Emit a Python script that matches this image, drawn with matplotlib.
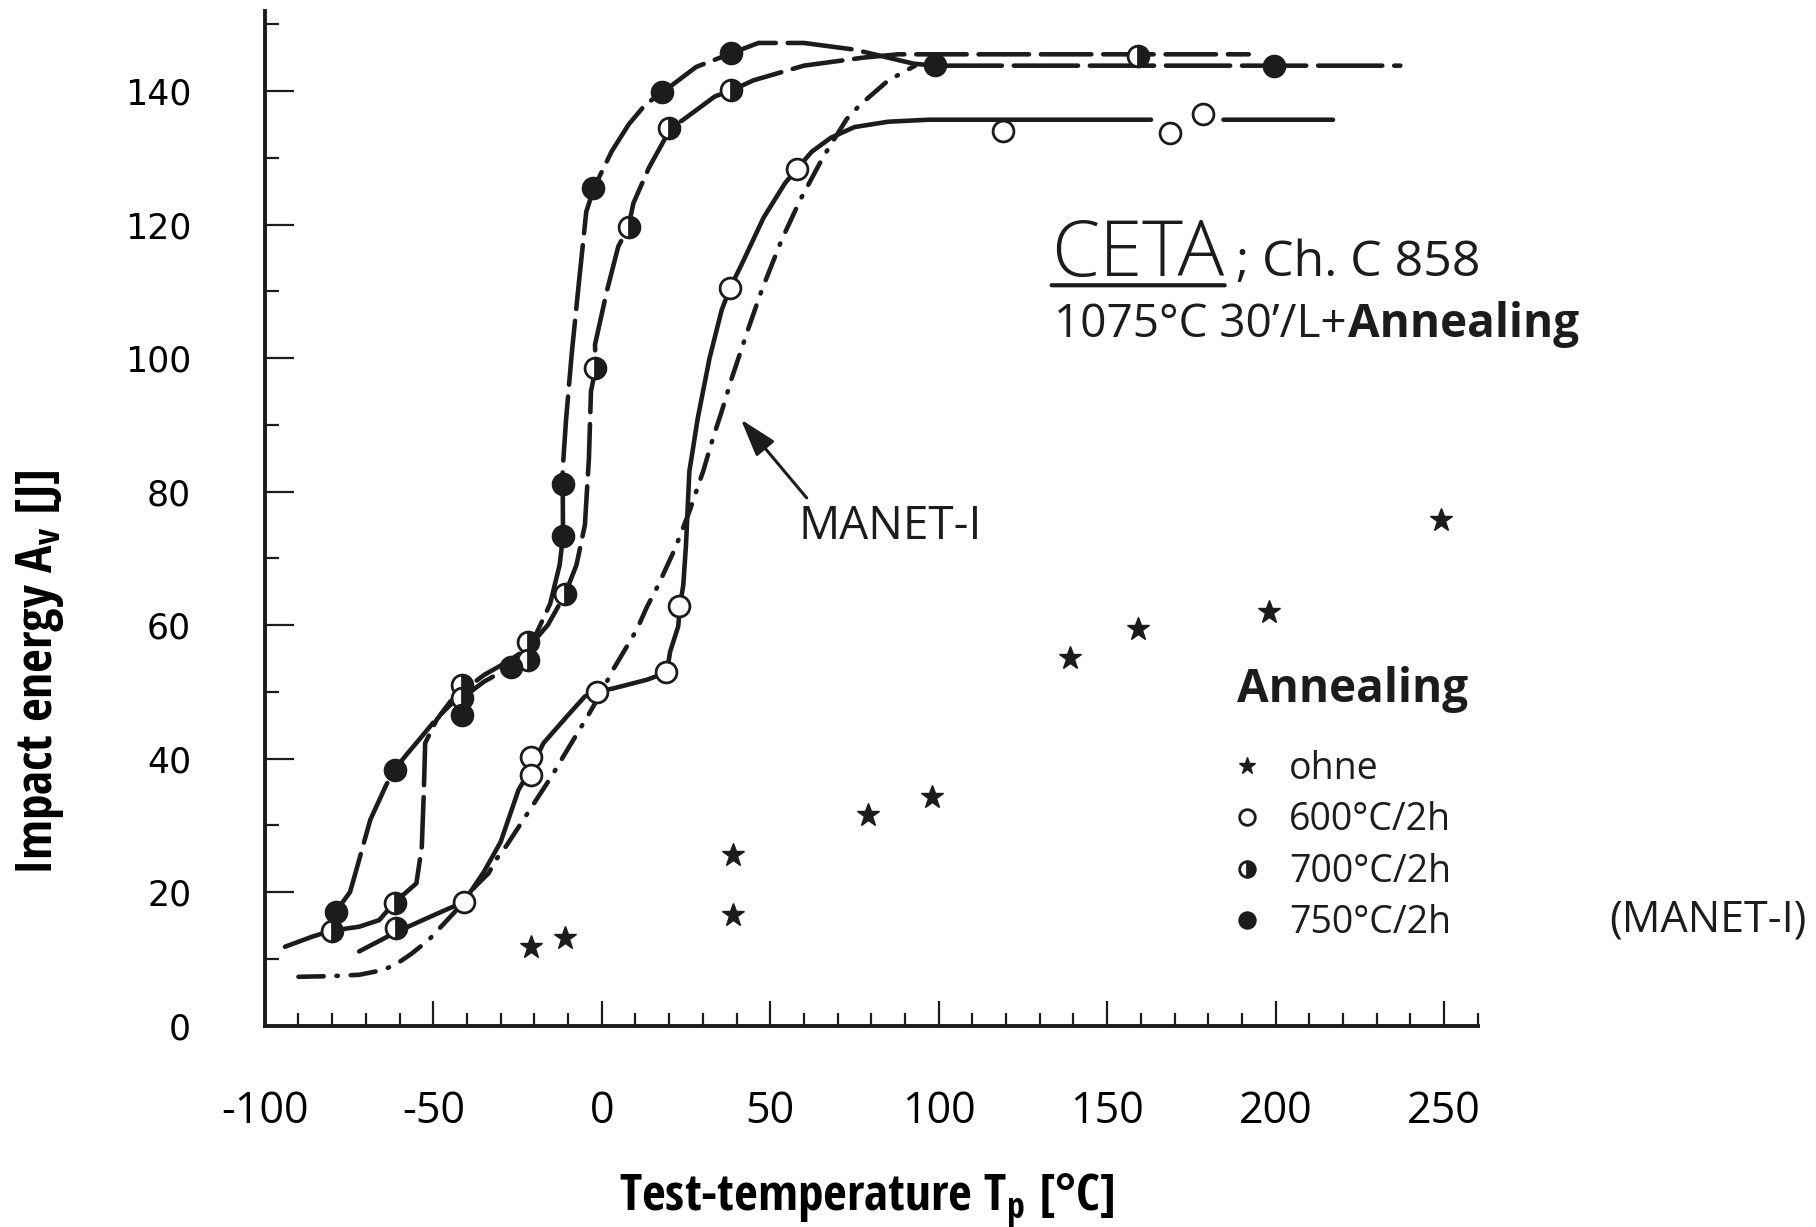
import numpy as np
import matplotlib
matplotlib.use('Agg')
import matplotlib.pyplot as plt
from matplotlib.ticker import MultipleLocator
from matplotlib.font_manager import FontProperties

plt.rcParams['axes.unicode_minus'] = False

# Charpy results, test temperature [degC] vs impact energy [J]
ohne_T = [-21, -11, 39, 39, 79, 98, 139, 159, 198, 249]
ohne_A = [11.8, 13.1, 25.6, 16.6, 31.5, 34.3, 55.1, 59.4, 62.0, 75.7]

t600_T = [-41, -21, -21, -1.5, 19, 23, 38, 58, 119, 168.5, 178.5]
t600_A = [18.5, 40.3, 37.5, 50.0, 52.9, 62.8, 110.5, 128.3, 134.0, 133.7, 136.5]

t700_T = [-80, -61.5, -61, -41.5, -41.5, -22, -22, -11, -2, 8, 20, 38.5, 159]
t700_A = [14.2, 18.4, 14.6, 51.0, 49.0, 57.5, 54.8, 64.6, 98.5, 119.6, 134.4, 140.1, 145.3]

t750_T = [-79, -61.5, -41.5, -27, -11.5, -11.5, -2.5, 18, 38.5, 99, 199.5]
t750_A = [17.0, 38.3, 46.5, 53.7, 73.3, 81.1, 125.5, 139.9, 145.7, 143.9, 143.7]

# hand-drawn trend curves (nan = gap)
c600_T = [-72, -61, -50, -41, -35, -30, -24.7, -21, -17.3, -10, -5, -1.5, 3.4, 13.4, 19.3,
          20.3, 22.7, 23.2, 24.2, 25, 26, 28.5, 32, 35.6, 38.1, 41.5, 48, 54.4, 57.9, 62.3,
          68, 75, 85, 97, 163, np.nan, 184.5, 217]
c600_A = [11.1, 14.0, 16.5, 18.5, 23, 27.5, 35.3, 38.5, 42.3, 46.5, 49.3, 50.0, 50.5, 51.8, 52.9,
          56, 59.8, 62.8, 66, 72, 83, 91, 100, 107.2, 110.5, 114, 121, 126.2, 128.3, 130.9,
          133, 134.6, 135.4, 135.7, 135.7, np.nan, 135.7, 135.7]

c700_T = [-94, -86, -80.3, -72, -66, -61.6, -55, -53.4, -52.8, -52.4, -49, -45, -41.5, -35,
          -28, -22, -16, -10.9, -7.5, -5, -3.8, -3.2, -1.8, -2, 1.5, 4.9, 7.9, 9.4, 14,
          18.8, 20.3, 24.2, 33.6, 38.6, 45, 60, 77.6, 88, 192]
c700_A = [11.8, 13.3, 14.2, 14.8, 15.8, 18.4, 21.3, 26.8, 35, 42.3, 45.8, 48.5, 50.0, 52.5,
          54.5, 56.5, 60, 64.6, 69, 75, 85, 95, 98.5, 102, 110, 116.7, 119.6, 123.2, 128.5,
          132.9, 134.4, 135.7, 139.2, 140.1, 141.6, 143.8, 145.0, 145.5, 145.5]

c750_T = [-79, -74.7, -73, -68.7, -64, -61.5, -58.4, -53.4, -49, -44, -41.5, -35, -27.2, -21,
          -15.3, -12.5, -11.5, -11.6, -10.6, -8.9, -6.9, -4.6, -2.3, 3, 8, 13, 18.3, 28, 38.7,
          46.5, 60, 75, 92.5, 98.8, 237]
c750_A = [17.0, 20, 23, 30.8, 36, 38.3, 40.3, 43.3, 46, 48.5, 49, 51.5, 53.7, 57,
          63.2, 69, 73.3, 83.2, 90.7, 100.7, 110.7, 121.9, 125.5, 131, 135, 138, 139.9, 143.6, 145.7,
          147.2, 147.2, 146.2, 144.1, 143.8, 143.8]

manet_T = [-90, -80, -72, -65, -61, -56.6, -51.4, -44, -41, -37.6, -33.6, -31.3, -28.2, -18.8,
           -14.8, -11.4, -4, 0, 3, 10.4, 13.4, 16.8, 21.8, 26, 30.2, 33, 35.6, 38.6, 43.5, 47.5,
           53.4, 58.9, 65.8, 72.7, 76.6, 84.6, 88.3, 93]
manet_A = [7.3, 7.4, 7.6, 8.3, 9.2, 10.7, 12.8, 16.8, 18.5, 20.8, 22.8, 24.9, 27, 34.3,
           37.4, 40.3, 46.5, 50, 53, 59.3, 62.7, 66, 71.5, 77, 83.2, 88, 92, 97, 104.4, 110.2,
           117.7, 123.7, 130.2, 135.8, 137.9, 141.4, 142.5, 143.8]

legend_labels = ['ohne', '600°C/2h', '700°C/2h', '750°C/2h']

ink = '#1c1c1c'
sans = ['Open Sans', 'DejaVu Sans']

fig = plt.figure(figsize=(18.16, 12.27), dpi=100)
ax = fig.add_axes([0.1458, 0.1642, 0.668, 0.8269])
ax.set_xlim(-100, 260)
ax.set_ylim(0, 152)
for s in ('top', 'right'):
    ax.spines[s].set_visible(False)
for s in ('left', 'bottom'):
    ax.spines[s].set_linewidth(2.8)
    ax.spines[s].set_color(ink)

ax.xaxis.set_major_locator(MultipleLocator(50))
ax.xaxis.set_minor_locator(MultipleLocator(10))
ax.yaxis.set_major_locator(MultipleLocator(20))
ax.yaxis.set_minor_locator(MultipleLocator(10))
ax.tick_params(axis='both', which='both', direction='in', color=ink, width=1.6)
ax.tick_params(axis='y', which='major', length=21, pad=53)
ax.tick_params(axis='y', which='minor', length=10)
ax.tick_params(axis='x', which='major', length=18, pad=46)
ax.tick_params(axis='x', which='minor', length=9.5)
for lb in ax.get_xticklabels():
    lb.set_fontproperties(FontProperties(family=sans, size=31))
for lb in ax.get_yticklabels():
    lb.set_fontproperties(FontProperties(family='DejaVu Sans', size=25))

# trend curves
lw = 3.3
ax.plot(c600_T, c600_A, color=ink, lw=lw, solid_capstyle='round', zorder=2)
ax.plot(c700_T, c700_A, color=ink, lw=lw, dashes=(11, 2.6), dash_capstyle='round', zorder=2)
ax.plot(c750_T, c750_A, color=ink, lw=lw, dashes=(14, 2.6), dash_capstyle='round', zorder=2)
ax.plot(manet_T, manet_A, color=ink, lw=lw, dashes=(5.5, 2.8, 0.3, 2.8), dash_capstyle='round', zorder=2)

# measured points
ms = 15
h_ohne, = ax.plot(ohne_T, ohne_A, ls='none', marker='*', ms=17, color=ink, mec=ink, zorder=4)
h600, = ax.plot(t600_T, t600_A, ls='none', marker='o', ms=ms, mfc='white', mec=ink, mew=2.0, zorder=4)
h700, = ax.plot(t700_T, t700_A, ls='none', marker='o', ms=ms, fillstyle='right', mfc=ink,
                markerfacecoloralt='white', mec=ink, mew=2.0, zorder=4)
h750, = ax.plot(t750_T, t750_A, ls='none', marker='o', ms=ms, mfc=ink, mec=ink, mew=2.0, zorder=4)

# axis titles
lab = FontProperties(family=['Open Sans Condensed', 'Open Sans', 'DejaVu Sans'], weight='bold', size=37)
ax.set_xlabel(r'Test-temperature $\mathregular{T_p}$ [°C]', fontproperties=lab, va='center')
ax.xaxis.set_label_coords(0.496, -0.173)
ax.set_ylabel(r'Impact energy $\mathregular{A_v}$ [J]', fontproperties=lab, va='center')
ax.yaxis.set_label_coords(-0.185, 0.348)

# heading
ceta = ax.text(133.5, 112.3, 'CETA', fontproperties=FontProperties(family=sans, weight='light', size=56),
               va='baseline', color=ink)
ax.annotate('; Ch. C 858', xy=(1, 112.3), xycoords=(ceta, 'data'), xytext=(8, 0),
            textcoords='offset points', va='baseline', color=ink,
            fontproperties=FontProperties(family=sans, size=36))
ax.annotate('', xy=(1, 110.9), xycoords=(ceta, 'data'), xytext=(0, 110.9), textcoords=(ceta, 'data'),
            arrowprops=dict(arrowstyle='-', lw=3, color=ink, shrinkA=0, shrinkB=0))
line2 = ax.text(134.2, 103.2, '1075°C 30’/L+', va='baseline', color=ink,
                fontproperties=FontProperties(family=sans, size=33))
ax.annotate('Annealing', xy=(1, 103.2), xycoords=(line2, 'data'), xytext=(1, 0),
            textcoords='offset points', va='baseline', color=ink,
            fontproperties=FontProperties(family=sans, weight='bold', size=33))

# MANET-I pointer
ax.annotate('MANET-I', xy=(41.3, 90.8), xytext=(58.5, 74.7), va='center', ha='left', color=ink,
            fontproperties=FontProperties(family=sans, size=33),
            arrowprops=dict(arrowstyle='-|>,head_length=0.7,head_width=0.22', lw=2.2, color=ink,
                            shrinkA=3, shrinkB=0, relpos=(0.07, 1.0)))

# legend
ax.text(188.4, 50.3, 'Annealing', va='center', ha='left', color=ink,
        fontproperties=FontProperties(family=sans, weight='bold', size=33))
leg = ax.legend([h_ohne, h600, h700, h750], legend_labels, loc='upper left',
                bbox_to_anchor=(188.4, 41.3), bbox_transform=ax.transData, frameon=False,
                borderpad=0, borderaxespad=0, handlelength=0.55, handletextpad=0.85,
                labelspacing=0.36, markerscale=0.75,
                prop=FontProperties(family=sans, size=27))
for t in leg.get_texts():
    t.set_color(ink)
ax.text(299, 15.7, '(MANET-I)', va='center', ha='left', color=ink,
        fontproperties=FontProperties(family=sans, size=31))

fig.savefig('out.png', dpi=100, facecolor='white')
